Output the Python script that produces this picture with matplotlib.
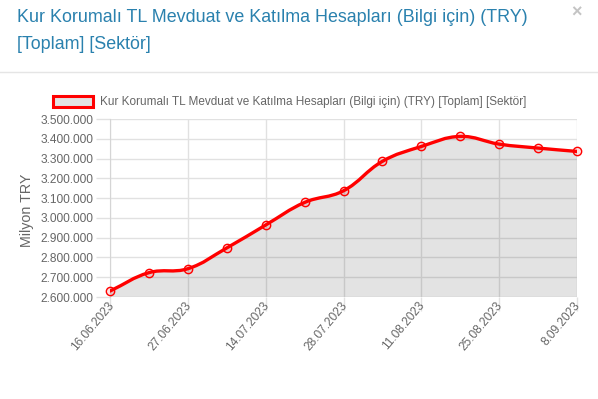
import numpy as np
import matplotlib
matplotlib.use("Agg")
import matplotlib.pyplot as plt
import matplotlib.transforms as mtransforms
from matplotlib.path import Path
from matplotlib.patches import PathPatch, Rectangle
from matplotlib.ticker import FuncFormatter, MultipleLocator
from matplotlib.lines import Line2D

plt.rcParams['font.family'] = ['Liberation Sans', 'DejaVu Sans']

# ---- data ----
dates = ["16.06.2023", "21.06.2023", "27.06.2023", "07.07.2023", "14.07.2023",
         "21.07.2023", "28.07.2023", "04.08.2023", "11.08.2023", "18.08.2023",
         "25.08.2023", "01.09.2023", "8.09.2023"]
values = [2630000, 2723000, 2743000, 2848000, 2964000, 3078000, 3137000,
          3286000, 3361000, 3412000, 3373000, 3353000, 3336000]
title_line1 = "Kur Korumalı TL Mevduat ve Katılma Hesapları (Bilgi için) (TRY)"
title_line2 = "[Toplam] [Sektör]"
legend_label = "Kur Korumalı TL Mevduat ve Katılma Hesapları (Bilgi için) (TRY) [Toplam] [Sektör]"
y_label = "Milyon TRY"
y_min, y_max, y_step = 2600000, 3500000, 100000

W, H = 598, 399
fig = plt.figure(figsize=(W / 100, H / 100), dpi=100)

def fx(px):
    return px / W

def fy(py):
    return 1 - py / H

# modal header
title_color = '#2a81ae'
fig.text(fx(17), fy(18), title_line1, fontsize=12.85, color=title_color, va='center', ha='left')
fig.text(fx(17), fy(44.5), title_line2, fontsize=12.85, color=title_color, va='center', ha='left')
fig.text(fx(577), fy(13), "×", fontsize=13, color='#c4c4c4', va='center', ha='center', fontweight='bold')
fig.add_artist(Line2D([0, 1], [fy(72), fy(72)], transform=fig.transFigure, color='#e5e5e5', lw=1))

# axes
L, R, T, B = 110, 577, 119, 297
ax = fig.add_axes([fx(L), fy(B), fx(R - L), (B - T) / H])
n = len(values)
x = np.arange(n)
ax.set_xlim(0, n - 1)
ax.set_ylim(y_min, y_max)

grid_c = '#e1e1e1'
ax.yaxis.set_major_locator(MultipleLocator(y_step))
ax.yaxis.set_major_formatter(FuncFormatter(lambda v, p: f"{int(round(v)):,}".replace(",", ".")))
ax.set_xticks(x[::2])
ax.set_xticklabels(dates[::2], rotation=50, ha='right', va='top', rotation_mode='anchor')
ax.tick_params(axis='both', colors=grid_c, labelcolor='#666666', labelsize=8.6, length=10, width=1)
ax.tick_params(axis='x', pad=-8)
ax.tick_params(axis='y', pad=2)
shift = mtransforms.ScaledTranslation(-3 / 100, 0, fig.dpi_scale_trans)
for lab in ax.get_xticklabels():
    lab.set_transform(lab.get_transform() + shift)
ax.grid(True, color=grid_c, lw=1)
ax.set_axisbelow(True)
for s in ['top', 'right']:
    ax.spines[s].set_visible(False)
for s in ['left', 'bottom']:
    ax.spines[s].set_color('#d5d5d5')
ax.spines['bottom'].set_visible(False)
fig.text(fx(27), fy(210), y_label, fontsize=10.3, color='#666666', rotation=90, va='center', ha='center')

# Chart.js-like spline (tension 0.4) computed in pixel space
tension = 0.4
sx = (R - L) / (n - 1)
sy = (B - T) / (y_max - y_min)
px = x * sx
py = (np.array(values) - y_min) * sy
cps = []
for i in range(n):
    prev_i = max(i - 1, 0)
    next_i = min(i + 1, n - 1)
    d01 = np.hypot(px[i] - px[prev_i], py[i] - py[prev_i])
    d12 = np.hypot(px[next_i] - px[i], py[next_i] - py[i])
    tot = d01 + d12
    s01 = d01 / tot if tot else 0
    s12 = d12 / tot if tot else 0
    fa, fb = tension * s01, tension * s12
    dxn = px[next_i] - px[prev_i]
    dyn = py[next_i] - py[prev_i]
    cp_prev = (px[i] - fa * dxn, py[i] - fa * dyn)
    cp_next = (px[i] + fb * dxn, py[i] + fb * dyn)
    cps.append((cp_prev, cp_next))

def todata(pxv, pyv):
    return (pxv / sx, pyv / sy + y_min)

verts = [todata(px[0], py[0])]
codes = [Path.MOVETO]
for i in range(n - 1):
    verts += [todata(*cps[i][1]), todata(*cps[i + 1][0]), todata(px[i + 1], py[i + 1])]
    codes += [Path.CURVE4] * 3
line_path = Path(verts, codes)
fill_verts = verts + [(x[-1], y_min), (x[0], y_min), verts[0]]
fill_codes = codes + [Path.LINETO, Path.LINETO, Path.CLOSEPOLY]
ax.add_patch(PathPatch(Path(fill_verts, fill_codes), facecolor=(0, 0, 0, 0.11), edgecolor='none', zorder=2))
ax.add_patch(PathPatch(line_path, facecolor='none', edgecolor='red', lw=2.4, zorder=3, capstyle='round'))
ax.plot(x, values, linestyle='none', marker='o', markersize=6, markerfacecolor=(1, 0, 0, 0.12),
        markeredgecolor='red', markeredgewidth=1, zorder=4, clip_on=False)

# legend
fig.add_artist(Rectangle((fx(53), fy(107)), fx(40), (107 - 96) / H, transform=fig.transFigure,
                         facecolor='#e3e3e3', edgecolor='red', lw=2.2))
fig.text(fx(100), fy(101.5), legend_label, fontsize=8.5, color='#666666', va='center', ha='left')

fig.savefig("out.png", dpi=100)
